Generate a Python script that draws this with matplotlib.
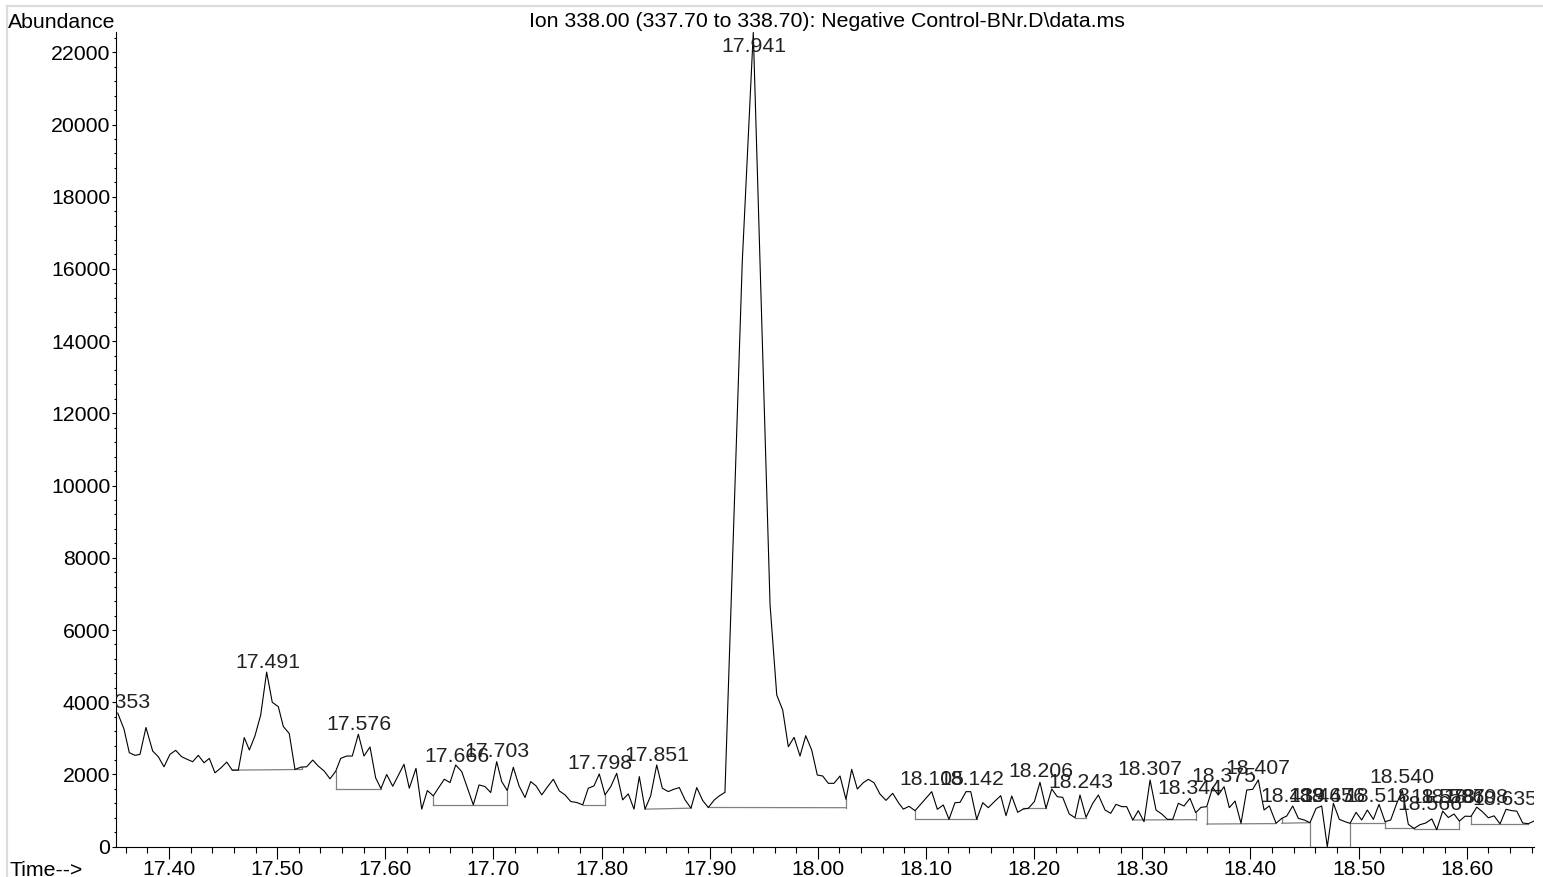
import matplotlib
matplotlib.use("Agg")
import matplotlib.pyplot as plt  # noqa: E402
import numpy as np  # noqa: E402
from matplotlib.lines import Line2D  # noqa: E402
from matplotlib.ticker import FormatStrFormatter, MultipleLocator  # noqa: E402

plt.rcParams["font.family"] = ["Liberation Sans", "DejaVu Sans"]

TITLE = "Ion 338.00 (337.70 to 338.70): Negative Control-BNr.D\\data.ms"

# retention time (min) / abundance
TIME = [
    17.3526, 17.3584, 17.3633, 17.3686, 17.3732, 17.3787, 17.3849, 17.3901, 17.3954, 17.4009,
    17.4062, 17.4117, 17.4169, 17.4219, 17.4271, 17.4324, 17.4373, 17.4425, 17.4481, 17.4534,
    17.4585, 17.4641, 17.4696, 17.4743, 17.4795, 17.4848, 17.4903, 17.4955, 17.5011, 17.5057,
    17.5112, 17.5165, 17.5221, 17.5273, 17.5329, 17.5381, 17.5436, 17.5489, 17.5542, 17.5588,
    17.5643, 17.5695, 17.5751, 17.5803, 17.5859, 17.5911, 17.5960, 17.6013, 17.6069, 17.6173,
    17.6222, 17.6284, 17.6337, 17.6389, 17.6444, 17.6490, 17.6546, 17.6599, 17.6651, 17.6707,
    17.6814, 17.6867, 17.6922, 17.6975, 17.7030, 17.7077, 17.7128, 17.7184, 17.7237, 17.7292,
    17.7345, 17.7394, 17.7447, 17.7502, 17.7554, 17.7609, 17.7662, 17.7715, 17.7770, 17.7826,
    17.7877, 17.7930, 17.7979, 17.8032, 17.8085, 17.8140, 17.8195, 17.8247, 17.8300, 17.8349,
    17.8402, 17.8454, 17.8510, 17.8562, 17.8617, 17.8670, 17.8719, 17.8772, 17.8827, 17.8880,
    17.8935, 17.8987, 17.9043, 17.9089, 17.9141, 17.9301, 17.9403, 17.9558, 17.9620, 17.9675,
    17.9727, 17.9780, 17.9835, 17.9888, 17.9943, 17.9995, 18.0045, 18.0097, 18.0149, 18.0205,
    18.0260, 18.0313, 18.0365, 18.0420, 18.0467, 18.0519, 18.0575, 18.0630, 18.0692, 18.0744,
    18.0790, 18.0843, 18.0899, 18.1053, 18.1105, 18.1160, 18.1213, 18.1268, 18.1315, 18.1370,
    18.1414, 18.1469, 18.1525, 18.1576, 18.1638, 18.1691, 18.1740, 18.1793, 18.1848, 18.1900,
    18.1946, 18.2002, 18.2054, 18.2110, 18.2163, 18.2214, 18.2264, 18.2325, 18.2378, 18.2424,
    18.2480, 18.2542, 18.2594, 18.2656, 18.2708, 18.2757, 18.2810, 18.2856, 18.2912, 18.2963,
    18.3016, 18.3072, 18.3127, 18.3180, 18.3232, 18.3282, 18.3333, 18.3386, 18.3441, 18.3494,
    18.3543, 18.3596, 18.3651, 18.3703, 18.3756, 18.3805, 18.3858, 18.3913, 18.3966, 18.4021,
    18.4073, 18.4126, 18.4175, 18.4237, 18.4290, 18.4336, 18.4391, 18.4443, 18.4499, 18.4551,
    18.4607, 18.4659, 18.4711, 18.4767, 18.4822, 18.4875, 18.4921, 18.4977, 18.5029, 18.5081,
    18.5137, 18.5189, 18.5245, 18.5297, 18.5353, 18.5405, 18.5460, 18.5513, 18.5568, 18.5621,
    18.5677, 18.5723, 18.5778, 18.5830, 18.5883, 18.5932, 18.5985, 18.6040, 18.6093, 18.6145,
    18.6200, 18.6253, 18.6308, 18.6364, 18.6416, 18.6463, 18.6518, 18.6570, 18.6623,
]
ABUND = [
    3701, 3255, 2604, 2530, 2558, 3301, 2650, 2492, 2213, 2558,
    2669, 2492, 2418, 2353, 2530, 2325, 2446, 2046, 2185, 2344,
    2120, 2120, 3022, 2678, 3069, 3646, 4836, 3999, 3878, 3329,
    3134, 2139, 2204, 2213, 2399, 2232, 2092, 1879, 2092, 2446,
    2511, 2511, 3115, 2511, 2762, 1906, 1609, 2000, 1674, 2282,
    1619, 2171, 1040, 1555, 1408, 1619, 1868, 1776, 2263, 2079,
    1159, 1711, 1665, 1500, 2355, 1803, 1555, 2199, 1684, 1362,
    1803, 1684, 1435, 1665, 1868, 1546, 1435, 1251, 1224, 1159,
    1619, 1684, 2015, 1435, 1665, 2033, 1297, 1463, 1040, 1941,
    1040, 1408, 2263, 1619, 1527, 1592, 1638, 1297, 1067, 1638,
    1279, 1086, 1297, 1408, 1506, 16190, 22550, 6700, 4200, 3785,
    2769, 3029, 2511, 3074, 2678, 1985, 1958, 1755, 1755, 1958,
    1312, 2143, 1598, 1772, 1866, 1772, 1455, 1283, 1478, 1225,
    1040, 1118, 998, 1524, 1035, 1155, 758, 1219, 1228, 1524,
    1524, 758, 1219, 1081, 1265, 1413, 859, 1404, 952, 1044,
    1063, 1247, 1782, 1063, 1598, 1385, 1367, 905, 804, 1432,
    813, 1201, 1432, 1016, 924, 1173, 1109, 1109, 739, 998,
    693, 1847, 1016, 905, 758, 758, 1201, 1127, 1339, 942,
    1090, 1109, 1644, 1432, 1662, 1081, 1265, 647, 1570, 1589,
    1850, 1016, 1130, 650, 785, 850, 1127, 785, 739, 665,
    1062, 1127, 0, 1201, 758, 693, 647, 952, 739, 1016,
    758, 1173, 693, 739, 1200, 1560, 620, 505, 610, 655,
    770, 470, 985, 808, 905, 710, 845, 840, 1095, 970,
    800, 855, 633, 1035, 998, 985, 656, 638, 712,
]

# integration marks: peak labels (text = apex time) and label baseline height
PEAK_LABELS = [
    "17.353", "17.491", "17.576", "17.666", "17.703", "17.798", "17.851", "17.941",
    "18.105", "18.142", "18.206", "18.243", "18.307", "18.344", "18.375", "18.407",
    "18.439", "18.465", "18.476", "18.518", "18.540", "18.566", "18.578", "18.587",
    "18.608", "18.635",
]
LABEL_Y = [
    3841, 4948, 3231, 2354, 2492, 2143, 2373, 22013,
    1708, 1708, 1938, 1634, 1985, 1459, 1800, 2005,
    1246, 1246, 1246, 1246, 1756, 1017, 1210, 1210,
    1210, 1155,
]

# drawn baselines of the integrated peaks
BASE_T0 = [17.4585, 17.5542, 17.6444, 17.7826, 17.8402, 17.8987, 18.0899, 18.1900, 18.2378,
           18.2912, 18.3596, 18.4290, 18.4551, 18.4921, 18.5245, 18.5513, 18.6040]
BASE_T1 = [17.5227, 17.5960, 17.7128, 17.8032, 17.8827, 18.0260, 18.1469, 18.2110, 18.2480,
           18.3494, 18.4237, 18.4551, 18.4921, 18.5245, 18.5513, 18.5932, 18.6570]
BASE_A0 = [2120, 1609, 1159, 1159, 1040, 1086, 758, 1063, 805, 739, 628, 650, 0, 647, 509, 480, 625]
BASE_A1 = [2139, 1609, 1159, 1159, 1067, 1080, 758, 1063, 805, 750, 640, 665, 0, 647, 509, 480, 625]

X_MIN, X_MAX = 17.351, 18.6625
Y_MAX = 22570
FS = 15.3
W, H = 1543, 877

fig = plt.figure(figsize=(W / 100, H / 100), dpi=100)
ax = fig.add_axes([116 / W, 1 - 846.7 / H, (1534.3 - 116) / W, 815 / H])

grey = "#808080"
for t0, t1, a0, a1 in zip(BASE_T0, BASE_T1, BASE_A0, BASE_A1):
    ax.plot([t0, t1], [a0, a1], color=grey, lw=0.9, zorder=2)
    for t, a in ((t0, a0), (t1, a1)):
        tr = np.interp(t, TIME, ABUND)
        if abs(tr - a) > 40:
            ax.plot([t, t], [a, tr], color=grey, lw=0.9, zorder=2)

ax.plot(TIME, ABUND, color="black", lw=0.8, zorder=3)

for lab, y in zip(PEAK_LABELS, LABEL_Y):
    ax.text(float(lab), y, lab, ha="center", va="baseline", fontsize=FS,
            color="#222222", clip_on=True, zorder=4)

ax.set_xlim(X_MIN, X_MAX)
ax.set_ylim(0, Y_MAX)
for s in ("top", "right"):
    ax.spines[s].set_visible(False)
for s in ("left", "bottom"):
    ax.spines[s].set_linewidth(0.8)

ax.xaxis.set_major_locator(MultipleLocator(0.1))
ax.xaxis.set_minor_locator(MultipleLocator(0.02))
ax.xaxis.set_major_formatter(FormatStrFormatter("%.2f"))
ax.yaxis.set_major_locator(MultipleLocator(2000))
ax.yaxis.set_minor_locator(MultipleLocator(400))
ax.yaxis.set_major_formatter(FormatStrFormatter("%d"))
ax.tick_params(axis="x", which="major", direction="out", length=8.4, width=0.8, pad=1.0, labelsize=FS)
ax.tick_params(axis="x", which="minor", direction="out", length=4.3, width=0.8)
ax.tick_params(axis="y", which="major", direction="out", length=3.1, width=0.8, pad=1.0, labelsize=FS)
ax.tick_params(axis="y", which="minor", direction="out", length=1.6, width=0.8)

fig.text(8 / W, 1 - 28 / H, "Abundance", fontsize=FS, va="baseline", ha="left")
fig.text(827 / W, 1 - 27 / H, TITLE, fontsize=FS, va="baseline", ha="center")
fig.text(10 / W, 1 - 876 / H, "Time-->", fontsize=FS, va="baseline", ha="left")

border = "#dcdcdc"
fig.add_artist(Line2D([7.5 / W, 7.5 / W], [0, 1 - 6 / H], color=border, lw=1.6, transform=fig.transFigure))
fig.add_artist(Line2D([7.5 / W, 1], [1 - 6 / H, 1 - 6 / H], color=border, lw=1.6, transform=fig.transFigure))

fig.savefig("out.png", dpi=100)
